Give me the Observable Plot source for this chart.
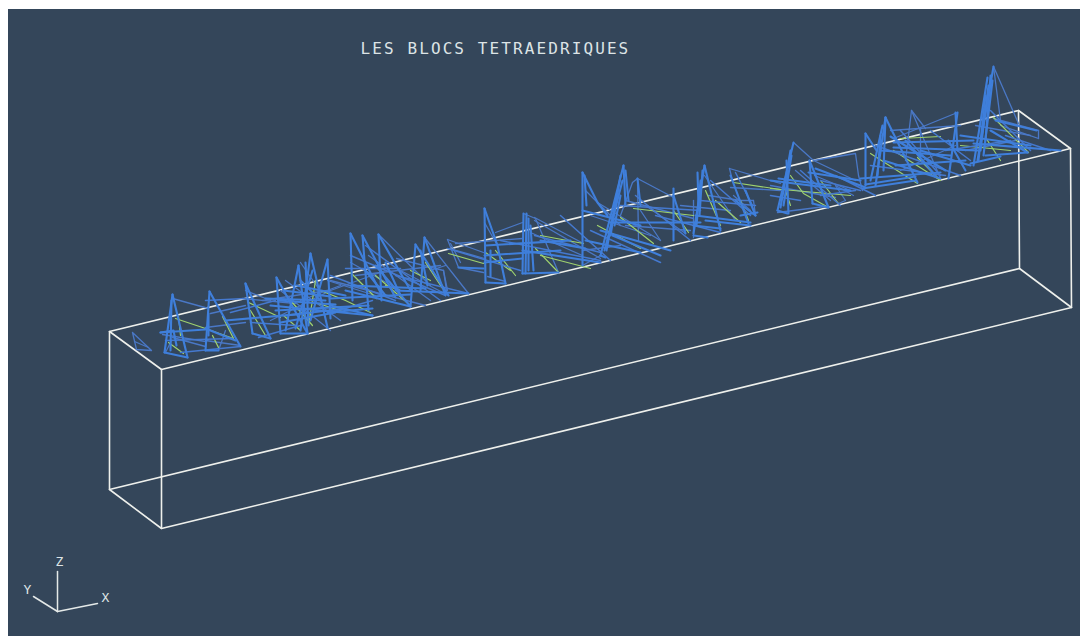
<!DOCTYPE html>
<html>
<head>
<meta charset="utf-8">
<script src="https://cdn.jsdelivr.net/npm/d3@7"></script>
<script src="https://cdn.jsdelivr.net/npm/@observablehq/plot@0.6"></script>
<style>
html,body{margin:0;padding:0;background:#fff;overflow:hidden}
#chart{position:absolute;left:8px;top:9px}
</style>
</head>
<body>
<div id="chart"></div>
<script>
const frameEdges = [
  [[109,331],[1018,110],[1070,148],[161,369],[109,331]],
  [[109,489],[1019,268],[1071,307],[161,528],[109,489]],
  [[109,331],[109,489]], [[161,369],[161,528]], [[1018,110],[1019,268]], [[1070,148],[1071,307]]
];
const triadEdges = [
  [[57,611],[57,571]], [[57,611],[33,596]], [[57,611],[97,603]]
];
const triadLabels = [
  {x:59,y:561,t:"Z"}, {x:27,y:589,t:"Y"}, {x:105,y:597,t:"X"}
];
const titleText = "LES BLOCS TETRAEDRIQUES";

const blueHeavy = [
  [[172,294],[164,352]],[[172,294],[187,357]],[[160,332],[205,329]],[[164,352],[187,357]],[[171,300],[170,350]],[[160,332],[173,330],[176,345]],
  [[209,291],[205,350]],[[209,291],[240,346]],[[205,350],[218,350]],[[208,313],[208,335]],[[205,328],[235,340]],
  [[245,283],[252,333]],[[245,283],[270,338]],[[252,333],[270,338]],[[225,320],[295,314]],
  [[276,277],[280,333]],[[276,277],[307,333]],[[298,265],[285,330]],[[298,265],[307,333]],[[310,253],[300,330]],[[310,253],[327,327]],[[327,259],[310,320]],[[327,259],[330,318]],[[280,333],[307,333]],[[270,305],[372,315]],[[265,298],[325,300]],[[275,310],[368,305]],[[280,322],[335,312]],[[296,285],[345,295]],
  [[305,262],[308,325]],[[312,270],[295,328]],[[300,280],[320,300]],[[283,290],[330,296]],[[278,300],[335,304]],[[285,315],[345,308]],[[330,298],[410,294]],[[327,312],[372,308]],
  [[350,233],[352,300]],[[350,233],[380,292]],[[362,235],[368,310]],[[362,235],[395,297]],[[378,234],[381,300]],[[378,234],[410,290]],[[330,305],[372,315]],[[345,290],[410,306]],[[375,265],[410,306]],
  [[365,270],[385,295]],[[385,262],[400,295]],[[350,285],[425,288]],
  [[415,244],[410,306]],[[415,244],[448,295]],[[424,237],[420,290]],[[424,237],[445,295]],[[395,290],[468,293]],[[420,250],[427,285]],
  [[458,267],[483,268]],
  [[484,208],[485,282]],[[484,208],[497,245],[505,283]],[[485,282],[505,283]],[[490,250],[490,276]],[[485,245],[570,240]],[[484,262],[522,258]],[[484,255],[560,250]],
  [[523,213],[522,273]],[[526,213],[525,273]],[[530,225],[533,270]],[[528,218],[528,270]],[[522,273],[558,272]],[[522,250],[600,262]],[[540,240],[585,248]],
  [[582,172],[582,265]],[[584,175],[586,205]],[[582,172],[597,202],[607,215]],[[582,210],[640,225]],[[585,240],[640,252]],
  [[623,165],[600,255]],[[623,165],[625,205]],[[620,175],[610,235]],[[625,170],[628,200]],[[617,190],[606,250]],[[622,180],[604,250]],[[620,195],[614,225]],[[600,255],[605,257]],[[600,230],[670,250]],[[612,235],[660,255]],
  [[637,178],[640,205]],[[610,222],[700,222]],[[673,188],[673,240]],[[673,195],[685,233]],
  [[704,165],[693,233]],[[697,172],[698,205]],[[704,165],[720,230]],[[700,180],[696,225]],[[702,170],[699,215]],[[693,235],[707,237]],[[693,225],[720,228]],[[705,220],[750,225]],[[695,215],[750,222]],
  [[730,175],[748,223]],[[735,200],[755,215]],[[745,190],[755,215]],[[740,215],[757,212]],
  [[793,142],[777,210]],[[790,150],[780,207]],[[786,160],[788,213]],[[791,155],[783,205]],[[777,210],[787,213]],[[770,180],[850,190]],[[778,178],[830,185]],
  [[809,160],[812,203]],[[809,160],[828,207]],[[812,203],[828,207]],[[808,172],[860,180]],[[815,168],[865,187]],[[865,184],[915,176]],
  [[865,133],[865,185]],[[865,133],[876,150]],[[885,117],[875,185]],[[885,117],[883,170]],[[882,125],[870,180]],[[880,135],[877,175]],[[885,117],[917,182]],[[860,178],[940,172]],[[862,188],[915,180]],[[893,142],[973,140]],[[893,147],[977,150]],[[883,160],[940,178]],
  [[880,150],[950,155]],[[890,136],[945,170]],[[905,140],[935,175]],[[920,150],[970,165]],[[895,165],[965,160]],
  [[957,112],[948,178]],[[955,112],[957,150]],[[948,140],[965,170]],
  [[987,77],[973,165]],[[993,66],[977,160]],[[985,95],[978,160]],[[990,75],[985,140]],[[988,85],[980,150]],[[992,80],[983,155]],[[973,143],[1060,150]],[[985,155],[1027,152]],[[990,130],[1027,152]],[[970,163],[1000,156]],[[995,120],[1036,130]],[[960,135],[1030,145]]
];
const blueSpans = [
  [[165,340],[232,338]],[[180,352],[240,346]],[[205,300],[245,298]],
  [[250,322],[295,325]],[[258,337],[300,325]],[[230,312],[275,300]],
  [[330,312],[372,300]],[[345,268],[400,268]],[[365,245],[440,300]],[[350,255],[445,295]],[[330,275],[395,300]],[[395,275],[468,293]],
  [[447,248],[520,270]],[[500,240],[600,260]],[[534,235],[600,252]],[[560,215],[610,260]],[[590,230],[660,262]],
  [[635,195],[690,240]],[[655,215],[720,232]],[[620,205],[700,210]],[[710,180],[750,215]],[[700,200],[755,205]],[[735,172],[752,205]],
  [[770,195],[800,200]],[[800,170],[840,205]],[[820,180],[860,190]],[[820,195],[855,190]],[[835,175],[875,195]],
  [[870,165],[945,175]],[[875,145],[960,175]],[[900,130],[940,175]],[[930,130],[970,160]],[[945,150],[1010,140]],[[990,110],[1030,150]],[[1005,135],[1050,150]]
];
const blueThin = [
  [[132,332],[151,350],[136,349],[132,332]],[[134,341],[148,347]],
  [[172,298],[208,308]],[[162,334],[205,341]],[[165,352],[171,340]],[[172,337],[205,346]],
  [[210,313],[245,305]],[[205,340],[240,345]],[[205,327],[245,322]],[[218,350],[225,330]],
  [[242,298],[295,303]],[[245,290],[270,300]],
  [[300,262],[318,288]],[[262,300],[327,290]],[[285,280],[340,320]],[[300,300],[340,285]],[[270,320],[330,290]],[[280,290],[330,330]],[[327,280],[375,295]],[[330,290],[385,270]],
  [[378,234],[430,285]],[[330,280],[425,305]],[[396,258],[443,270]],[[443,270],[446,290]],[[350,262],[400,290]],[[355,275],[440,265]],[[368,255],[430,300]],
  [[424,237],[468,293]],[[400,270],[448,295]],[[430,270],[445,265]],[[443,270],[447,290]],
  [[447,239],[458,267],[483,272]],[[447,239],[483,252]],[[450,243],[460,262]],[[449,248],[484,258]],
  [[484,222],[497,245]],[[487,276],[505,281]],[[455,243],[522,238]],[[495,232],[522,222]],
  [[523,213],[535,218],[558,272]],[[534,217],[583,243]],[[534,220],[600,258]],[[530,232],[582,255]],
  [[585,190],[620,225]],[[582,250],[620,245]],[[582,265],[600,255]],[[597,202],[660,240]],[[590,215],[650,235]],
  [[632,182],[637,178],[673,197]],[[637,178],[638,240]],[[632,182],[620,215]],[[625,200],[693,218]],[[640,210],[660,240]],[[645,205],[685,233]],[[625,225],[690,230]],
  [[704,175],[735,220]],[[693,237],[693,200]],[[708,195],[740,200]],[[680,205],[730,210]],
  [[729,168],[780,183]],[[729,168],[732,180]],[[753,200],[755,215]],[[740,200],[753,200]],[[730,187],[780,190]],[[733,195],[750,210]],
  [[793,142],[813,160],[855,180]],[[777,212],[825,206]],[[770,185],[835,197]],[[795,170],[830,200]],
  [[813,160],[855,153],[858,175],[862,190]],[[835,185],[845,200],[838,203]],[[835,185],[853,195]],[[814,175],[850,190]],
  [[957,112],[893,138]],[[911,110],[905,160]],[[911,110],[925,128]],[[911,110],[940,178]],[[920,127],[920,160]],[[890,130],[960,125]],[[900,170],[955,145]],
  [[993,66],[1018,123]],[[993,66],[1000,120]],[[993,118],[1038,130]],[[1038,130],[1038,138]],[[1000,125],[1038,138]],[[975,125],[1030,135]],[[965,150],[1015,140]]
];
const greenLines = [
  [[175,318],[205,328],[233,338]],[[168,342],[183,353]],[[178,316],[180,335]],
  [[212,335],[218,347]],[[222,316],[233,338]],
  [[248,302],[280,317]],[[250,310],[265,335]],
  [[290,300],[312,325]],[[315,280],[308,325]],[[283,315],[300,330]],[[320,290],[345,300]],[[318,303],[345,312]],[[345,300],[370,312]],
  [[350,272],[376,298]],[[375,275],[410,305]],[[385,285],[400,290]],
  [[425,262],[442,288]],[[410,270],[430,280]],
  [[448,253],[483,263]],
  [[495,250],[515,275]],[[485,252],[510,270]],
  [[540,235],[583,243]],[[535,248],[558,272]],[[540,255],[590,268]],
  [[597,225],[640,248]],[[620,217],[653,243]],
  [[633,208],[693,215]],[[673,210],[688,232]],
  [[705,190],[720,225]],[[715,200],[740,222]],
  [[733,182],[780,189]],[[740,200],[748,220]],
  [[790,175],[803,193],[828,207]],[[770,188],[850,195]],[[785,190],[790,205]],[[820,180],[838,203]],
  [[870,153],[917,183]],[[893,150],[940,180]],[[917,157],[937,177]],[[900,138],[940,136]],
  [[993,117],[1028,152]],[[987,140],[1000,160]],[[960,145],[1010,150]]
];

const rows = list => list.flatMap((pts,i) => pts.map(([x,y]) => ({x,y,id:i})));
const chart = Plot.plot({
  width:1072, height:627, margin:0,
  x:{domain:[8,1080],range:[0,1072],axis:null},
  y:{domain:[9,636],range:[0,627],axis:null},
  style:{background:"#34465a",display:"block",fontFamily:"'DejaVu Sans Mono',monospace"},
  marks:[
    Plot.line(rows(frameEdges),{x:"x",y:"y",z:"id",stroke:"#eef0ec",strokeWidth:1.6}),
    Plot.line(rows(triadEdges),{x:"x",y:"y",z:"id",stroke:"#e4e9e8",strokeWidth:1.5}),
    Plot.line(rows(blueThin),{x:"x",y:"y",z:"id",stroke:"#4a78c6",strokeWidth:1.3}),
    Plot.line(rows(greenLines),{x:"x",y:"y",z:"id",stroke:"#9fd26e",strokeWidth:1.2}),
    Plot.line(rows(blueSpans),{x:"x",y:"y",z:"id",stroke:"#4579cf",strokeWidth:1.5}),
    Plot.line(rows(blueHeavy),{x:"x",y:"y",z:"id",stroke:"#3f7fdb",strokeWidth:2.1}),
    Plot.text(triadLabels,{x:"x",y:"y",text:"t",fill:"#dde4e6",fontSize:13}),
    Plot.text([titleText],{x:[360],y:[48],text:d=>d,textAnchor:"start",fill:"#dde4e6",fontSize:16,
      render(index,scales,values,dims,context,next){
        const g=next(index,scales,values,dims,context);
        g.setAttribute("letter-spacing","2.1");
        return g;
      }})
  ]
});
document.getElementById("chart").append(chart);
</script>
</body>
</html>
